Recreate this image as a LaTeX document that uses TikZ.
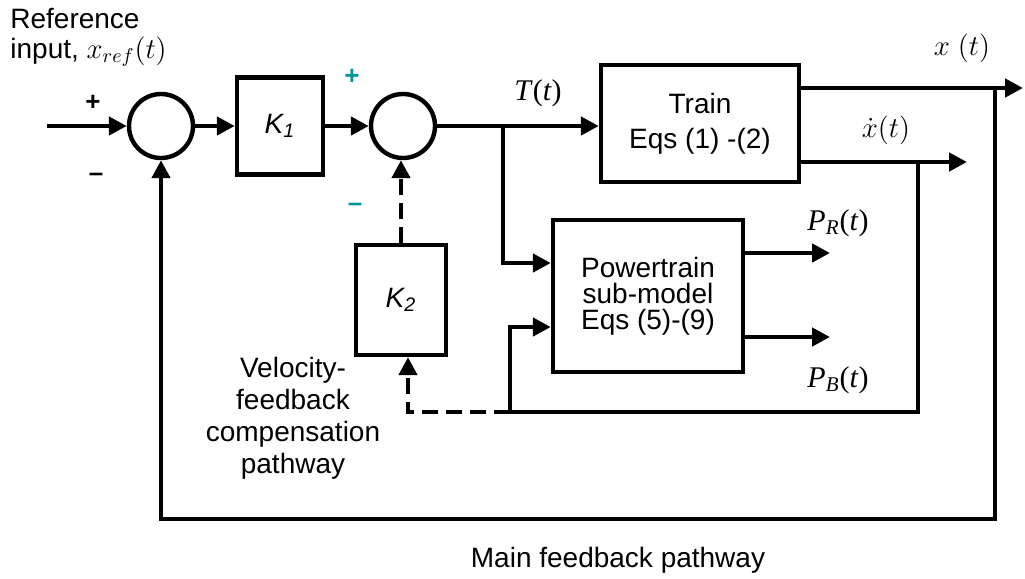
\documentclass[tikz,border=0pt]{standalone}
\usepackage{fontspec}
\setmainfont{Liberation Sans}
\newfontfamily\timesf{Liberation Serif}
\usepackage{xcolor}
\usetikzlibrary{arrows.meta, positioning, calc}
\definecolor{signteal}{RGB}{0,150,150}

\begin{document}
\begin{tikzpicture}[x=0.5pt, y=-0.5pt,
        block/.style={rectangle, draw, line width=2.2pt, font=\fontsize{14}{13}\selectfont, align=center, inner sep=0pt},
        sumjunction/.style={circle, draw, line width=2.2pt, minimum size=32pt, inner sep=0pt},
        sig/.style={-{Triangle[length=9pt, width=9pt]}, line width=2.4pt},
        wire/.style={line width=2.4pt},
        fbdash/.style={line width=2.4pt, dash pattern=on 8pt off 4pt},
        txt/.style={font=\fontsize{14}{16}\selectfont, align=center, inner sep=0pt},
        eqlbl/.style={font=\timesf\fontsize{15}{16}\selectfont, inner sep=0pt},
        sign/.style={font=\bfseries\fontsize{13}{13}\selectfont, inner sep=0pt}
    ]
        \useasboundingbox (0,0) rectangle (1025,579);

        % Blocks
        \node[sumjunction] (sum1) at (161,126) {};
        \node[block, minimum width=43pt, minimum height=48.5pt] (k1) at (280,126) {\itshape K\textsubscript{1}};
        \node[sumjunction] (sum2) at (403,126) {};
        \node[block, minimum width=99pt, minimum height=58.5pt, font=\fontsize{14}{17.5}\selectfont] (train) at (700,123.5) {Train\\Eqs (1) -(2)};
        \node[block, minimum width=95pt, minimum height=76pt] (pt) at (648,296) {Powertrain\\sub-model\\Eqs (5)-(9)};
        \node[block, minimum width=45pt, minimum height=55pt] (k2) at (401,300) {\itshape K\textsubscript{2}};

        % Points on the lines
        \coordinate (xin) at (47,126);
        \coordinate (xout) at (1023,88);
        \coordinate (xtap) at (995,88);
        \coordinate (fbcorner) at (995,519);
        \coordinate (vout) at (967,162);
        \coordinate (vtap) at (918,162);
        \coordinate (vcorner) at (918,412);
        \coordinate (vjoin) at (510,412);
        \coordinate (vk2) at (408,412);
        \coordinate (ptin2) at (510,327);
        \coordinate (tbranch) at (503,126);
        \coordinate (ptin1) at (503,263);
        \coordinate (prout) at (830,253);
        \coordinate (pbout) at (830,337);

        % Forward path
        \draw[sig] (xin) -- (sum1);
        \draw[sig] (sum1) -- (k1);
        \draw[sig] (k1) -- (sum2);
        \draw[sig] (sum2) -- (sum2 -| train.west);
        \draw[sig] (tbranch) -- (ptin1) -- (ptin1 -| pt.west);

        % Outputs
        \draw[sig] (train.east |- xout) -- (xout);
        \draw[sig] (train.east |- vout) -- (vout);
        \draw[sig] (pt.east |- prout) -- (prout);
        \draw[sig] (pt.east |- pbout) -- (pbout);

        % Main feedback
        \draw[sig] (xtap) -- (fbcorner) -- (fbcorner -| sum1) -- (sum1);

        % Velocity feedback
        \draw[wire] (vtap) -- (vcorner) -- (vjoin);
        \draw[sig] (vjoin) -- (ptin2) -- (ptin2 -| pt.west);
        \draw[sig, fbdash] (vjoin) -- (vk2) -- (vk2 |- k2.south);
        \draw[sig, fbdash] (k2.north) -- (k2.north |- sum2.south);

        % Signs
        \node[sign] (plus1) at (93,103) {+};
        \node[sign] (minus1) at (96,177) {--};
        \node[sign, text=signteal] (plus2) at (352,77) {+};
        \node[sign, text=signteal] (minus2) at (355,207) {--};

        % Labels
        \node[txt, anchor=north west, align=left, font=\fontsize{14}{15}\selectfont] (refin) at (10,8) {Reference\\input, $x_{ref}(t)$};
        \node[eqlbl] (tlbl) at (538,93) {\textit{T}(\textit{t})};
        \node[eqlbl] (xlbl) at (962,48) {$x\;(t)$};
        \node[eqlbl] (vlbl) at (886,130) {$\dot{x}(t)$};
        \node[eqlbl] (prlbl) at (838,223) {\textit{P}\textsubscript{\textit{R}}(\textit{t})};
        \node[eqlbl] (pblbl) at (838,380) {\textit{P}\textsubscript{\textit{B}}(\textit{t})};
        \node[txt] (vfb) at (293,418) {Velocity-\\feedback\\compensation\\pathway};
        \node[txt] (mfb) at (618,560) {Main feedback pathway};

    \end{tikzpicture}
\end{document}
